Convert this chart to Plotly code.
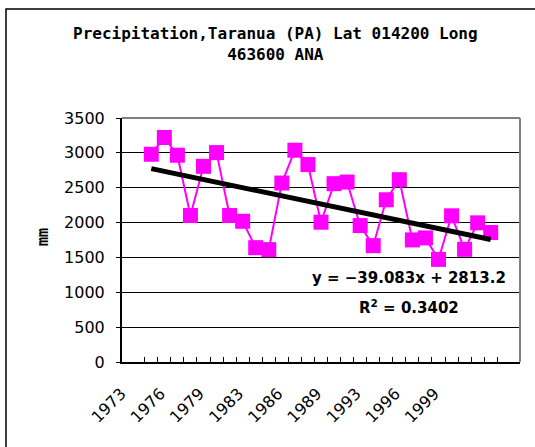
import plotly.graph_objects as go

years = ["1973", "1974", "1975", "1976", "1977", "1978", "1979", "1980", "1981",
         "1983", "1984", "1985", "1986", "1987", "1988", "1989", "1990", "1992",
         "1993", "1994", "1995", "1996", "1997", "1998", "1999", "2000", "2001"]
precip = [2980, 3220, 2966, 2101, 2807, 3004, 2101, 2019, 1640,
          1612, 2567, 3038, 2832, 2005, 2558, 2581, 1957, 1669,
          2327, 2615, 1751, 1780, 1472, 2097, 1616, 1996, 1857]
trend_slope = -39.083
trend_intercept = 2813.2
r_squared = 0.3402
label_every = 3
y_ticks = [0, 500, 1000, 1500, 2000, 2500, 3000, 3500]

trend = [trend_slope * (i + 1) + trend_intercept for i in range(len(years))]

W, H = 535, 447
ml, mr, mt, mb = 122, 15, 118, 85
pw = W - ml - mr
ph = H - mt - mb

MONO = "DejaVu Sans Mono"


def px(x):
    return (x - ml) / pw


def py(y):
    return (H - mb - y) / ph


fig = go.Figure()
fig.add_trace(go.Scatter(
    x=years, y=precip, mode="lines+markers",
    line=dict(color="#FF00FF", width=2),
    marker=dict(symbol="square", size=15, color="#FF00FF"),
    showlegend=False, cliponaxis=False))
fig.add_trace(go.Scatter(
    x=years, y=trend, mode="lines",
    line=dict(color="black", width=5),
    showlegend=False))

ticktext = [y if i % label_every == 0 else " " for i, y in enumerate(years)]

fig.update_layout(
    width=W, height=H,
    margin=dict(l=ml, r=mr, t=mt, b=mb, autoexpand=False),
    paper_bgcolor="white", plot_bgcolor="white",
    font=dict(family="DejaVu Sans", size=16, color="black"),
    xaxis=dict(type="category", tickmode="array", tickvals=years, ticktext=ticktext,
               tickson="boundaries", ticks="inside", ticklen=5, tickcolor="black",
               tickangle=-45, showgrid=False, showline=True, linecolor="black",
               linewidth=2, zeroline=False, automargin=False, tickfont=dict(size=16),
               ticklabelshift=-30, ticklabelstandoff=14),
    yaxis=dict(range=[0, 3500], tickvals=y_ticks, ticks="outside", ticklen=4,
               tickcolor="black", showgrid=True, gridcolor="black", gridwidth=1,
               showline=True, linecolor="black", linewidth=2, zeroline=False,
               automargin=False, ticklabelstandoff=8, tickfont=dict(size=16)),
    shapes=[
        dict(type="line", xref="paper", yref="paper", x0=0, x1=1, y0=1, y1=1,
             line=dict(color="#808080", width=2)),
        dict(type="line", xref="paper", yref="paper", x0=1, x1=1, y0=0, y1=1,
             line=dict(color="#808080", width=2)),
        dict(type="rect", xref="paper", yref="paper", x0=px(6), x1=px(560),
             y0=py(470), y1=py(9), line=dict(color="black", width=1.5)),
    ],
    annotations=[
        dict(xref="paper", yref="paper", x=px(275), y=py(44), showarrow=False,
             xanchor="center", yanchor="middle",
             text="<b>Precipitation,Taranua (PA) Lat 014200 Long<br>463600 ANA</b>",
             font=dict(family=MONO, size=16, color="black")),
        dict(xref="paper", yref="paper", x=px(43), y=py(237), showarrow=False,
             xanchor="center", yanchor="middle",
             textangle=-90, text="<b>mm</b>",
             font=dict(family=MONO, size=15)),
        dict(xref="paper", yref="paper", x=px(409), y=py(278), showarrow=False,
             xanchor="center", yanchor="middle",
             text=f"<b>y = \u2212{abs(trend_slope):.3f}x + {trend_intercept:.1f}</b>",
             font=dict(family="DejaVu Sans", size=15)),
        dict(xref="paper", yref="paper", x=px(409), y=py(307), showarrow=False,
             xanchor="center", yanchor="middle",
             text=f"<b>R<sup>2</sup> = {r_squared:.4f}</b>",
             font=dict(family="DejaVu Sans", size=15)),
    ],
)

fig.write_html("out.html", config={"displayModeBar": False},
               post_script="document.body.style.margin='0';")
